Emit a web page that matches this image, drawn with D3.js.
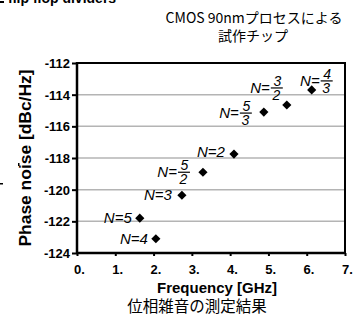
<!DOCTYPE html>
<html><head><meta charset="utf-8">
<script src="https://cdn.jsdelivr.net/npm/d3@7"></script>
<style>body{margin:0;background:#fff}svg{display:block}</style>
</head><body>
<svg id="c" width="358" height="326"></svg>
<script>
const freqGHz = [6.13, 5.48, 4.88, 4.10, 3.29, 2.74, 1.64, 2.06];
const phaseNoise = [-113.7, -114.65, -115.1, -117.75, -118.9, -120.35, -121.8, -123.1];
const numerators = ["4", "3", "5", "2", "5", "3", "5", "4"];
const denominators = ["3", "2", "3", "", "2", "", "", ""];
const xTicks = [0, 1, 2, 3, 4, 5, 6, 7];
const yTicks = [-124, -122, -120, -118, -116, -114, -112];
const xTickLabels = ["0.", "1.", "2.", "3.", "4.", "5.", "6.", "7."];
const yTickLabels = ["-124", "-122", "-120", "-118", "-116", "-114", "-112"];
// label layout (right edge dx, baseline dy relative to marker)
const labelDx = [21, -4, -12, -9, -13, -10, -8, -8];
const labelDy = [-4, -12, 6, 3, 5, 5, 5, 5];

const svg = d3.select("#c");
const F = "Arial, 'Liberation Sans', sans-serif";
const CJK = "'Noto Sans CJK JP', sans-serif";
const L = 77, R = 345, T = 63, B = 253;
const x = d3.scaleLinear().domain([0, 7]).range([L, R]);
const y = d3.scaleLinear().domain([-124, -112]).range([B, T]);

// header text
svg.append("text").attr("x", 8).attr("y", 3).attr("font-family", F).attr("font-weight", "bold")
  .attr("font-size", 14).text("flip flop dividers");
svg.append("rect").attr("x", 0).attr("y", 1).attr("width", 4).attr("height", 2).attr("fill", "#000");
svg.append("text").attr("x", 254).attr("y", 23).attr("text-anchor", "middle").attr("font-family", CJK)
  .attr("font-size", 14).text("CMOS 90nmプロセスによる");
svg.append("text").attr("x", 253).attr("y", 41).attr("text-anchor", "middle").attr("font-family", CJK)
  .attr("font-size", 14).text("試作チップ");

// grid
svg.append("g").selectAll("line").data(yTicks.filter(d => d > -124 && d < -112)).join("line")
  .attr("x1", L).attr("x2", R).attr("y1", d => y(d)).attr("y2", d => y(d))
  .attr("stroke", "#b4b4b4").attr("stroke-width", 1.5);

// axes
const yAxis = d3.axisLeft(y).tickValues(yTicks).tickSize(5).tickFormat((d, i) => yTickLabels[i]);
const gy = svg.append("g").attr("transform", `translate(${L},0)`).call(yAxis);
gy.select(".domain").remove();
gy.selectAll(".tick line").attr("stroke", "#000").attr("stroke-width", 2);
gy.selectAll(".tick text").attr("font-family", F).attr("font-weight", "bold").attr("font-size", 13)
  .attr("x", -7).attr("dy", "0.35em").attr("fill", "#000");

const xAxis = d3.axisBottom(x).tickValues(xTicks).tickSize(3).tickFormat((d, i) => xTickLabels[i]);
const gx = svg.append("g").attr("transform", `translate(0,${B})`).call(xAxis);
gx.select(".domain").remove();
gx.selectAll(".tick line").attr("stroke", "#000").attr("stroke-width", 2);
gx.selectAll(".tick text").attr("font-family", F).attr("font-weight", "bold").attr("font-size", 13)
  .attr("text-anchor", "start").attr("x", -3.6).attr("y", 21).attr("dy", 0).attr("fill", "#000");

// frame
svg.append("rect").attr("x", L).attr("y", T).attr("width", R - L).attr("height", B - T)
  .attr("fill", "none").attr("stroke", "#000").attr("stroke-width", 2);
svg.append("line").attr("x1", L).attr("x2", L).attr("y1", T - 1).attr("y2", B + 1).attr("stroke", "#000").attr("stroke-width", 2.5);
svg.append("line").attr("x1", L - 1).attr("x2", R + 1).attr("y1", B).attr("y2", B).attr("stroke", "#000").attr("stroke-width", 2.5);

// markers
const pts = freqGHz.map((f, i) => ({ f, p: phaseNoise[i], n: numerators[i], d: denominators[i], i }));
svg.append("g").selectAll("path").data(pts).join("path")
  .attr("transform", d => `translate(${x(d.f)},${y(d.p)}) rotate(45)`)
  .attr("d", d3.symbol(d3.symbolSquare, 42)()).attr("fill", "#000");

// labels
const lg = svg.append("g").attr("font-family", F).attr("font-style", "italic").attr("font-size", 15).attr("fill", "#000");
pts.forEach(d => {
  const rx = x(d.f) + labelDx[d.i], by = y(d.p) + labelDy[d.i];
  if (d.d === "") {
    lg.append("text").attr("x", rx).attr("y", by).attr("text-anchor", "end").text("N=" + d.n);
  } else {
    const bar = by - 5;
    lg.append("line").attr("x1", rx - 12).attr("x2", rx).attr("y1", bar).attr("y2", bar)
      .attr("stroke", "#000").attr("stroke-width", 1.2);
    lg.append("text").attr("x", rx - 5.5).attr("y", bar - 2).attr("text-anchor", "middle").attr("font-size", 14).text(d.n);
    lg.append("text").attr("x", rx - 6.5).attr("y", bar + 12).attr("text-anchor", "middle").attr("font-size", 14).text(d.d);
    lg.append("text").attr("x", rx - 13).attr("y", by).attr("text-anchor", "end").text("N=");
  }
});

// axis titles
svg.append("text").attr("transform", "translate(31,158) rotate(-90)").attr("text-anchor", "middle")
  .attr("font-family", F).attr("font-weight", "bold").attr("font-size", 16)
  .attr("textLength", 177).attr("lengthAdjust", "spacingAndGlyphs").text("Phase noise [dBc/Hz]");
svg.append("text").attr("x", 217).attr("y", 293).attr("text-anchor", "middle")
  .attr("font-family", F).attr("font-weight", "bold").attr("font-size", 15).text("Frequency [GHz]");
svg.append("text").attr("x", 197).attr("y", 312).attr("text-anchor", "middle")
  .attr("font-family", CJK).attr("font-size", 15.5).text("位相雑音の測定結果");

// small stray marks
svg.append("rect").attr("x", 18).attr("y", 163).attr("width", 1.5).attr("height", 3).attr("fill", "#000");
svg.append("rect").attr("x", 0).attr("y", 183).attr("width", 3).attr("height", 1.5).attr("fill", "#000");
</script>
</body></html>
